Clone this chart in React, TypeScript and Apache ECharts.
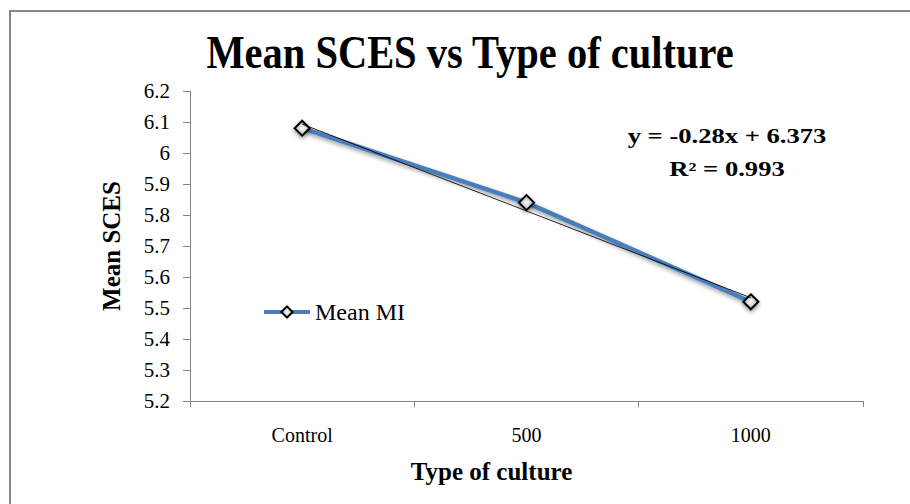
import React, { useEffect, useRef } from "react";
import * as echarts from "echarts";

const categories = ["Control", "500", "1000"];
const meanMI = [6.08, 5.84, 5.52];
const trendValues = [6.093, 5.813, 5.533];
const yTicks = { min: 5.2, max: 6.2, interval: 0.1 };
const titleText = "Mean SCES vs Type of culture";
const equationLines = ["y = -0.28x + 6.373", "R² = 0.993"];

const SERIF = "Liberation Serif";

export default function App() {
  const ref = useRef<HTMLDivElement>(null);
  useEffect(() => {
    if (!ref.current) return;
    const chart = echarts.init(ref.current, null, { renderer: "svg" });
    chart.setOption({
      animation: false,
      backgroundColor: "#ffffff",
      textStyle: { fontFamily: SERIF },
      grid: { left: 190, right: 47, top: 91, bottom: 103 },
      legend: {
        data: ["Mean MI"],
        left: 262,
        top: 300,
        padding: 0,
        itemWidth: 46,
        itemHeight: 14,
        itemGap: 5,
        lineStyle: { width: 4, color: "#4A7EBB" },
        textStyle: { fontFamily: SERIF, fontSize: 24, color: "#000" },
      },
      xAxis: {
        type: "category",
        data: categories,
        boundaryGap: true,
        name: "Type of culture",
        nameLocation: "middle",
        nameGap: 58,
        nameTextStyle: {
          fontFamily: SERIF,
          fontSize: 25,
          fontWeight: "bold",
          color: "#000",
          padding: [0, 70, 0, 0],
        },
        axisLine: { lineStyle: { color: "#868686", width: 1 } },
        axisTick: { show: true, length: 6, lineStyle: { color: "#868686" } },
        axisLabel: { margin: 24, fontFamily: SERIF, fontSize: 20, color: "#000" },
        splitLine: { show: false },
      },
      yAxis: {
        type: "value",
        min: yTicks.min,
        max: yTicks.max,
        interval: yTicks.interval,
        name: "Mean SCES",
        nameLocation: "middle",
        nameGap: 66,
        nameTextStyle: { fontFamily: SERIF, fontSize: 25, fontWeight: "bold", color: "#000" },
        axisLine: { show: true, lineStyle: { color: "#868686", width: 1 } },
        axisTick: { show: true, length: 7, lineStyle: { color: "#868686" } },
        axisLabel: {
          margin: 20,
          fontFamily: SERIF,
          fontSize: 21,
          color: "#000",
          formatter: (v: number) => String(Math.round(v * 10) / 10),
        },
        splitLine: { show: false },
      },
      series: [
        {
          name: "Mean MI",
          type: "line",
          data: meanMI,
          symbol: "diamond",
          symbolSize: 15,
          z: 3,
          lineStyle: {
            color: "#4A7EBB",
            width: 4.5,
            shadowColor: "rgba(0,0,0,0.4)",
            shadowBlur: 4,
            shadowOffsetY: 2,
          },
          itemStyle: {
            color: new echarts.graphic.RadialGradient(0.5, 0.5, 0.6, [
              { offset: 0, color: "#ffffff" },
              { offset: 1, color: "#9a9a9a" },
            ]),
            borderColor: "#000000",
            borderWidth: 2,
            shadowColor: "rgba(0,0,0,0.45)",
            shadowBlur: 4,
            shadowOffsetY: 2,
          },
        },
        {
          name: "Linear (Mean MI)",
          type: "line",
          data: trendValues,
          symbol: "none",
          z: 4,
          silent: true,
          lineStyle: { color: "#000000", width: 1, opacity: 0.85 },
        },
      ],
      graphic: [
        {
          type: "rect",
          shape: { x: 10, y: 11, width: 1000, height: 600 },
          style: { fill: "none", stroke: "#878787", lineWidth: 2 },
          z: -1,
        },
        {
          type: "text",
          x: 470,
          y: 52,
          scaleX: 0.88,
          style: {
            text: titleText,
            fontFamily: SERIF,
            fontSize: 46,
            fontWeight: "bold",
            fill: "#000",
            align: "center",
            verticalAlign: "middle",
          },
        },
        {
          type: "text",
          x: 727,
          y: 136,
          scaleX: 1.33,
          style: {
            text: equationLines[0],
            fontFamily: SERIF,
            fontSize: 20,
            fontWeight: "bold",
            fill: "#000",
            align: "center",
            verticalAlign: "middle",
          },
        },
        {
          type: "text",
          x: 727,
          y: 169,
          scaleX: 1.33,
          style: {
            text: equationLines[1],
            fontFamily: SERIF,
            fontSize: 20,
            fontWeight: "bold",
            fill: "#000",
            align: "center",
            verticalAlign: "middle",
          },
        },
      ],
    });
    return () => chart.dispose();
  }, []);
  return (
    <div
      ref={ref}
      style={{ position: "absolute", left: 0, top: 0, width: 910, height: 504 }}
    />
  );
}
